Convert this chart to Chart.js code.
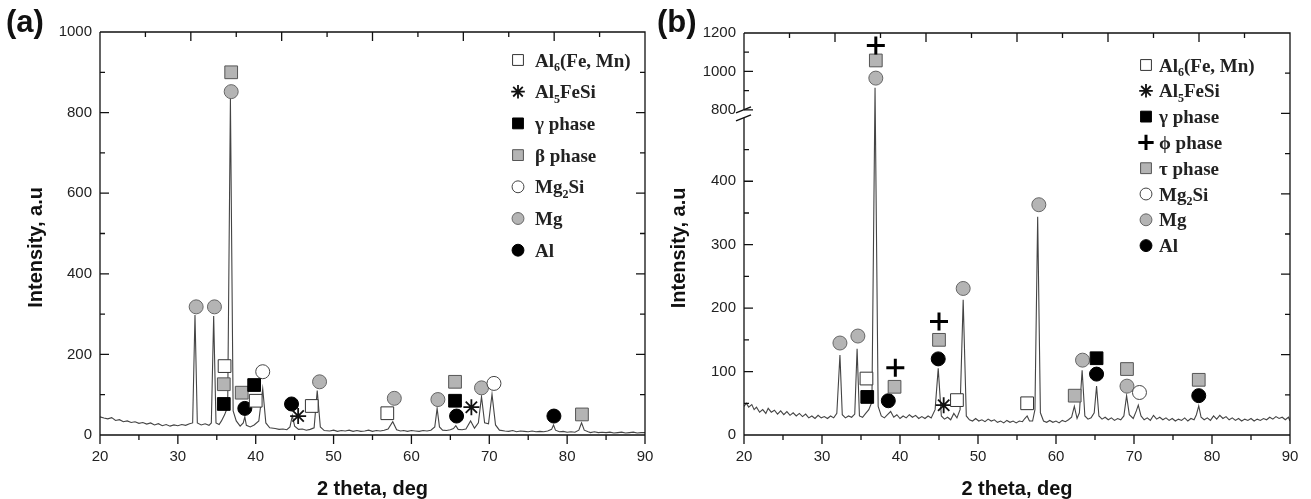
<!DOCTYPE html>
<html lang="en">
<head>
<meta charset="UTF-8">
<title>XRD patterns (a) and (b)</title>
<script src="https://cdn.jsdelivr.net/npm/chart.js@4"></script>
<style>
  body { margin: 0; background: #fff; }
  .wrap { position: relative; width: 1311px; height: 499px; }
  #chartA { position: absolute; left: 0; top: 0; }
  #chartB { position: absolute; left: 655px; top: 0; }
</style>
</head>
<body>
<div class="wrap">
  <canvas id="chartA" width="655" height="499"></canvas>
  <canvas id="chartB" width="656" height="499"></canvas>
</div>
<script>
// ---- panel (a): pattern [2theta, intensity]
const aPattern = [
  [20.0,45],[20.5,42],[21.0,40],[21.5,43],[22.0,36],[22.5,38],[23.0,33],[23.5,35],[24.0,31],[24.5,33],
  [25.0,29],[25.5,31],[26.0,27],[26.5,30],[27.0,25],[27.5,28],[28.0,23],[28.5,26],[29.0,22],[29.5,25],
  [30.0,23],[30.5,26],[31.0,24],[31.5,28],[31.9,30],[32.2,298],[32.5,30],[33.0,25],[33.5,28],[34.0,24],
  [34.3,30],[34.6,295],[34.9,30],[35.3,26],[35.6,35],[36.0,50],[36.4,70],[36.75,835],[37.1,60],[37.5,35],
  [38.0,22],[38.4,30],[38.6,45],[38.8,24],[39.3,20],[39.8,25],[40.4,35],[40.9,115],[41.3,30],[41.8,18],
  [42.5,16],[43.0,14],[43.5,15],[44.0,13],[44.4,20],[44.7,48],[45.0,22],[45.5,14],[46.0,15],[46.5,12],
  [47.0,14],[47.5,18],[47.9,110],[48.3,20],[48.8,11],[49.5,10],[50.0,12],[50.5,9],[51.0,11],[51.5,10],
  [52.0,12],[52.5,9],[53.0,11],[53.5,9],[54.0,10],[54.5,12],[55.0,9],[55.5,11],[56.0,10],[56.5,12],
  [57.0,15],[57.6,33],[58.1,13],[58.6,10],[59.0,11],[59.5,9],[60.0,11],[60.5,10],[61.0,9],[61.5,11],
  [62.0,10],[62.5,12],[63.0,20],[63.3,66],[63.6,20],[64.0,12],[64.5,11],[65.0,13],[65.4,16],[65.7,23],
  [66.0,14],[66.5,13],[67.0,15],[67.6,35],[68.1,17],[68.6,30],[69.0,95],[69.4,30],[69.9,28],[70.35,101],
  [70.8,25],[71.3,12],[72.0,10],[72.5,9],[73.0,11],[73.5,8],[74.0,10],[74.5,9],[75.0,8],[75.5,10],
  [76.0,8],[76.5,9],[77.0,8],[77.5,10],[78.0,14],[78.25,25],[78.5,12],[79.0,8],[79.5,9],[80.0,7],
  [80.5,8],[81.0,7],[81.5,12],[81.85,30],[82.2,12],[82.7,8],[83.0,6],[83.5,8],[84.0,6],[84.5,7],
  [85.0,6],[85.5,7],[86.0,5],[86.5,6],[87.0,7],[87.5,5],[88.0,6],[88.5,7],[89.0,5],[89.5,6],[90.0,6]
];
const aAl6 = [[36.0,171],[40.0,85],[47.2,72],[56.9,54]];
const aAl5FeSi = [[45.45,47],[67.7,69]];
const aGamma = [[35.9,77],[39.8,124],[65.6,85]];
const aBeta = [[36.85,900],[35.9,126],[38.2,105],[65.6,132],[81.9,51]];
const aMg2Si = [[40.9,157],[70.6,128]];
const aMg = [[32.35,318],[34.7,318],[36.85,852],[48.2,132],[57.8,91],[63.4,88],[69.0,117]];
const aAl = [[38.6,66],[44.6,77],[65.8,47],[78.3,47]];
const aYTicks = [0, 200, 400, 600, 800, 1000];

// ---- panel (b)
const bPattern = [
  [20.0,45],[20.3,50],[20.6,44],[21.0,48],[21.3,40],[21.6,44],[22.0,36],[22.4,40],[22.8,34],[23.1,42],
  [23.5,36],[23.9,39],[24.3,33],[24.7,38],[25.1,32],[25.5,37],[25.9,31],[26.3,35],[26.7,30],[27.1,34],
  [27.5,29],[27.9,33],[28.3,27],[28.7,30],[29.1,26],[29.5,31],[29.9,27],[30.3,29],[30.7,26],[31.1,30],
  [31.5,27],[31.9,34],[32.3,126],[32.6,32],[33.0,27],[33.4,30],[33.8,28],[34.2,33],[34.5,136],[34.8,30],
  [35.2,28],[35.6,34],[36.0,40],[36.4,52],[36.8,915],[37.2,45],[37.6,30],[38.0,27],[38.4,32],[38.8,37],
  [39.2,28],[39.6,32],[40.0,26],[40.4,30],[40.8,27],[41.2,32],[41.6,28],[42.0,31],[42.4,26],[42.8,29],
  [43.2,26],[43.6,30],[44.0,27],[44.5,40],[44.9,105],[45.3,30],[45.7,25],[46.1,28],[46.5,24],[46.9,34],
  [47.3,27],[47.7,40],[48.1,213],[48.5,30],[48.9,24],[49.3,22],[49.7,26],[50.1,22],[50.5,24],[50.9,21],
  [51.3,25],[51.7,22],[52.1,24],[52.5,20],[52.9,22],[53.3,19],[53.7,23],[54.1,20],[54.5,22],[54.9,19],
  [55.3,22],[55.7,21],[56.0,26],[56.3,30],[56.6,22],[57.0,22],[57.3,40],[57.65,344],[58.0,35],[58.4,22],
  [58.8,20],[59.2,23],[59.6,20],[60.0,22],[60.4,19],[60.8,23],[61.2,21],[61.6,24],[62.0,28],[62.35,45],
  [62.7,26],[63.0,35],[63.35,102],[63.7,30],[64.1,25],[64.5,27],[64.9,35],[65.2,77],[65.5,30],[65.9,25],
  [66.3,28],[66.7,24],[67.1,27],[67.5,23],[67.9,26],[68.3,24],[68.7,30],[69.05,62],[69.4,32],[69.9,26],
  [70.3,38],[70.55,47],[70.9,30],[71.3,24],[71.7,27],[72.1,23],[72.5,31],[72.9,25],[73.3,28],[73.7,24],
  [74.1,27],[74.5,23],[74.9,26],[75.3,22],[75.7,25],[76.1,23],[76.5,27],[76.9,22],[77.3,26],[77.7,24],
  [78.0,32],[78.3,46],[78.6,28],[79.0,24],[79.4,27],[79.8,23],[80.2,30],[80.6,25],[81.0,31],[81.4,26],
  [81.8,29],[82.2,24],[82.6,27],[83.0,23],[83.4,26],[83.8,22],[84.2,25],[84.6,23],[85.0,26],[85.4,22],
  [85.8,25],[86.2,23],[86.6,26],[87.0,24],[87.4,28],[87.8,25],[88.2,29],[88.6,26],[89.0,28],[89.4,24],
  [89.8,28],[90.0,22]
];
const bAl6 = [[35.7,89],[47.3,55],[56.3,50]];
const bAl5FeSi = [[45.6,47]];
const bGamma = [[35.8,60],[65.2,121]];
const bPhi = [[36.9,1135],[39.4,106],[45.0,179]];
const bTau = [[36.9,1057],[39.3,76],[45.0,150],[62.4,62],[69.1,104],[78.3,87]];
const bMg2Si = [[70.7,67]];
const bMg = [[32.3,145],[34.6,156],[36.9,965],[48.1,231],[57.8,363],[63.4,118],[69.1,77]];
const bAl = [[38.5,54],[44.9,120],[65.2,96],[78.3,62]];
const bYTicks = [0, 100, 200, 300, 400, 800, 1000, 1200];

const xTicks = [20, 30, 40, 50, 60, 70, 80, 90];

// broken y axis for (b): 0-500 lower part, 800-1200 upper part
const BREAK_LOW = 500, BREAK_HIGH = 800, LOW_FRAC = 0.789, GAP_FRAC = 0.02;

class BrokenScale extends Chart.LinearScale {
  getPixelForValue(value) {
    let d;
    if (value <= BREAK_LOW) d = LOW_FRAC * value / BREAK_LOW;
    else if (value < BREAK_HIGH) d = LOW_FRAC + GAP_FRAC * (value - BREAK_LOW) / (BREAK_HIGH - BREAK_LOW);
    else d = LOW_FRAC + GAP_FRAC + (1 - LOW_FRAC - GAP_FRAC) * (value - BREAK_HIGH) / (this.max - BREAK_HIGH);
    return this.getPixelForDecimal(d);
  }
}
BrokenScale.id = 'broken';
BrokenScale.defaults = Chart.LinearScale.defaults;
Chart.register(BrokenScale);

Chart.defaults.font.family = '"Liberation Sans", Arial, sans-serif';
Chart.defaults.color = '#222';

const GREY = '#b4b4b4';
const styles = {
  al6:   { pointStyle: 'rect',   backgroundColor: '#fff', borderColor: '#333', pointRadius: 9, borderWidth: 1 },
  ast:   { pointStyle: 'star',   backgroundColor: '#000', borderColor: '#111', pointRadius: 8, borderWidth: 1.8 },
  black: { pointStyle: 'rect',   backgroundColor: '#000', borderColor: '#000', pointRadius: 9, borderWidth: 1 },
  grey:  { pointStyle: 'rect',   backgroundColor: GREY,   borderColor: '#555', pointRadius: 9, borderWidth: 1 },
  plus:  { pointStyle: 'cross',  backgroundColor: '#000', borderColor: '#000', pointRadius: 9, borderWidth: 3 },
  open:  { pointStyle: 'circle', backgroundColor: '#fff', borderColor: '#444', pointRadius: 7, borderWidth: 1 },
  mg:    { pointStyle: 'circle', backgroundColor: GREY,   borderColor: '#666', pointRadius: 7, borderWidth: 1 },
  al:    { pointStyle: 'circle', backgroundColor: '#000', borderColor: '#000', pointRadius: 7, borderWidth: 1 }
};

function toXY(arr) { return arr.map(p => ({ x: p[0], y: p[1] })); }

function markerSet(label, pts, style) {
  return Object.assign({ type: 'scatter', label: label, data: toXY(pts), order: 0 }, style);
}

// inward ticks on top/left/right, outward on bottom, like the Origin frame
const framePlugin = {
  id: 'frame',
  afterDatasetsDraw(chart, args, opts) {
    const { ctx, chartArea: { left, right, top, bottom }, scales: { x, y } } = chart;
    ctx.save();
    ctx.strokeStyle = '#111';
    ctx.lineWidth = 1.3;
    ctx.beginPath();
    ctx.moveTo(left, top); ctx.lineTo(right, top); ctx.lineTo(right, bottom); ctx.lineTo(left, bottom);
    if (opts.broken) {
      const pLow = y.getPixelForValue(BREAK_LOW), pHigh = y.getPixelForValue(BREAK_HIGH);
      ctx.lineTo(left, pLow);
      ctx.moveTo(left, pHigh); ctx.lineTo(left, top);
    } else {
      ctx.lineTo(left, top);
    }
    for (let v = 20; v <= 90; v += 5) {
      const px = x.getPixelForValue(v);
      ctx.moveTo(px, bottom); ctx.lineTo(px, bottom + (v % 10 === 0 ? 9 : 5));
    }
    opts.yMajor.forEach(v => { const py = y.getPixelForValue(v); ctx.moveTo(left, py); ctx.lineTo(left + 9, py); });
    opts.yMinor.forEach(v => { const py = y.getPixelForValue(v); ctx.moveTo(left, py); ctx.lineTo(left + 5, py); });
    for (let k = 1; k < 10; k++) {
      const py = bottom - (bottom - top) * k / 10;
      ctx.moveTo(right, py); ctx.lineTo(right - (k % 2 === 0 ? 9 : 5), py);
    }
    for (let k = 1; k < 12; k++) {
      const px = left + (right - left) * k / 12;
      ctx.moveTo(px, top); ctx.lineTo(px, top + (k % 2 === 0 ? 9 : 5));
    }
    ctx.stroke();
    if (opts.broken) {
      ctx.lineWidth = 1.4;
      ctx.beginPath();
      [BREAK_LOW, BREAK_HIGH].forEach(v => {
        const py = y.getPixelForValue(v);
        ctx.moveTo(left - 8, py + 3); ctx.lineTo(left + 7, py - 3);
      });
      ctx.stroke();
    }
    ctx.restore();
  }
};

function drawRichText(ctx, text, x, y, size) {
  const parts = text.split(/_(\d)/);
  parts.forEach((p, i) => {
    const sub = i % 2 === 1;
    ctx.font = 'bold ' + (sub ? Math.round(size * 0.62) : size) + 'px "Liberation Serif", "Times New Roman", "DejaVu Serif", serif';
    ctx.fillText(p, x, sub ? y + size * 0.25 : y);
    x += ctx.measureText(p).width;
  });
}

// legend inside the plot, drawn from the marker datasets
const legendPlugin = {
  id: 'phaseLegend',
  afterDraw(chart, args, opts) {
    const { ctx, chartArea: { right, top } } = chart;
    const sets = chart.data.datasets.filter(ds => ds.label);
    ctx.save();
    sets.forEach((ds, i) => {
      const cy = top + opts.firstRow + i * opts.rowGap;
      const mx = right - opts.markerOffset;
      ctx.fillStyle = ds.backgroundColor;
      ctx.strokeStyle = ds.borderColor;
      ctx.lineWidth = ds.borderWidth;
      Chart.helpers.drawPoint(ctx, {
        pointStyle: ds.pointStyle, rotation: 0,
        radius: ds.pointRadius * 0.85, borderWidth: ds.borderWidth
      }, mx, cy);
      ctx.fillStyle = '#222';
      ctx.textBaseline = 'alphabetic';
      ctx.textAlign = 'left';
      drawRichText(ctx, ds.label, right - opts.textOffset, cy + 6.5, 19);
    });
    ctx.font = 'bold 31px "Liberation Sans", Arial, sans-serif';
    ctx.fillStyle = '#111';
    ctx.fillText(opts.panel, opts.panelX, 32);
    ctx.restore();
  }
};

function makeChart(id, cfg) {
  const datasets = cfg.markers.concat([{
    type: 'scatter', label: '', data: toXY(cfg.pattern), showLine: true,
    borderColor: '#444', borderWidth: 1.1, pointRadius: 0, order: 10
  }]);
  return new Chart(document.getElementById(id), {
    type: 'scatter',
    data: { datasets: datasets },
    plugins: [framePlugin, legendPlugin],
    options: {
      responsive: false,
      animation: false,
      devicePixelRatio: 1,
      layout: { padding: { left: 0, top: cfg.top, right: cfg.right, bottom: 0 } },
      plugins: {
        legend: { display: false },
        tooltip: { enabled: false },
        frame: { yMajor: cfg.yMajor, yMinor: cfg.yMinor, broken: cfg.broken },
        phaseLegend: cfg.legend
      },
      scales: {
        x: {
          type: 'linear', min: 20, max: 90,
          afterBuildTicks: s => { s.ticks = xTicks.map(v => ({ value: v })); },
          ticks: { callback: v => String(v), font: { size: 15 }, padding: 13, autoSkip: false, maxRotation: 0 },
          grid: { display: false, drawTicks: false },
          border: { display: false },
          title: { display: true, text: '2 theta, deg', color: '#111',
                   font: { size: 20, weight: 'bold', lineHeight: 1 }, padding: { top: 0, bottom: 0 } },
          afterFit: s => { s.height = 64; s.paddingLeft = 0; s.paddingRight = 0; }
        },
        y: {
          type: cfg.yType, min: 0, max: cfg.yMax,
          afterBuildTicks: s => { s.ticks = cfg.yTicks.map(v => ({ value: v })); },
          ticks: { callback: v => String(v), font: { size: 15 }, padding: 8, autoSkip: false },
          grid: { display: false, drawTicks: false },
          border: { display: false },
          // trailing spaces push the title a little below the axis centre, as in the figure
          title: { display: true, text: 'Intensity, a.u     ', color: '#111',
                   font: { size: 20, weight: 'bold', lineHeight: 1 }, padding: { top: cfg.titlePad, bottom: 0 } },
          afterFit: s => { s.width = cfg.yWidth; s.paddingTop = 0; s.paddingBottom = 0; }
        }
      }
    }
  });
}

makeChart('chartA', {
  pattern: aPattern,
  markers: [
    markerSet('Al_6(Fe, Mn)', aAl6, styles.al6),
    markerSet('Al_5FeSi', aAl5FeSi, styles.ast),
    markerSet('γ phase', aGamma, styles.black),
    markerSet('β phase', aBeta, styles.grey),
    markerSet('Mg_2Si', aMg2Si, styles.open),
    markerSet('Mg', aMg, styles.mg),
    markerSet('Al', aAl, styles.al)
  ],
  top: 32, right: 7, yWidth: 100, titlePad: 26,
  yType: 'linear', yMax: 1000, yTicks: aYTicks, broken: false,
  yMajor: [0, 200, 400, 600, 800, 1000], yMinor: [100, 300, 500, 700, 900],
  legend: { markerOffset: 127, textOffset: 110, firstRow: 28, rowGap: 31.7, panel: '(a)', panelX: 6 }
});

makeChart('chartB', {
  pattern: bPattern,
  markers: [
    markerSet('Al_6(Fe, Mn)', bAl6, styles.al6),
    markerSet('Al_5FeSi', bAl5FeSi, styles.ast),
    markerSet('γ phase', bGamma, styles.black),
    markerSet('ϕ phase', bPhi, styles.plus),
    markerSet('τ phase', bTau, styles.grey),
    markerSet('Mg_2Si', bMg2Si, styles.open),
    markerSet('Mg', bMg, styles.mg),
    markerSet('Al', bAl, styles.al)
  ],
  top: 33, right: 21, yWidth: 89, titlePad: 14.5,
  yType: 'broken', yMax: 1200, yTicks: bYTicks, broken: true,
  yMajor: [0, 100, 200, 300, 400, 800, 1000, 1200], yMinor: [50, 150, 250, 350, 450, 900, 1100],
  legend: { markerOffset: 144, textOffset: 131, firstRow: 32, rowGap: 25.8, panel: '(b)', panelX: 2 }
});
</script>
</body>
</html>
